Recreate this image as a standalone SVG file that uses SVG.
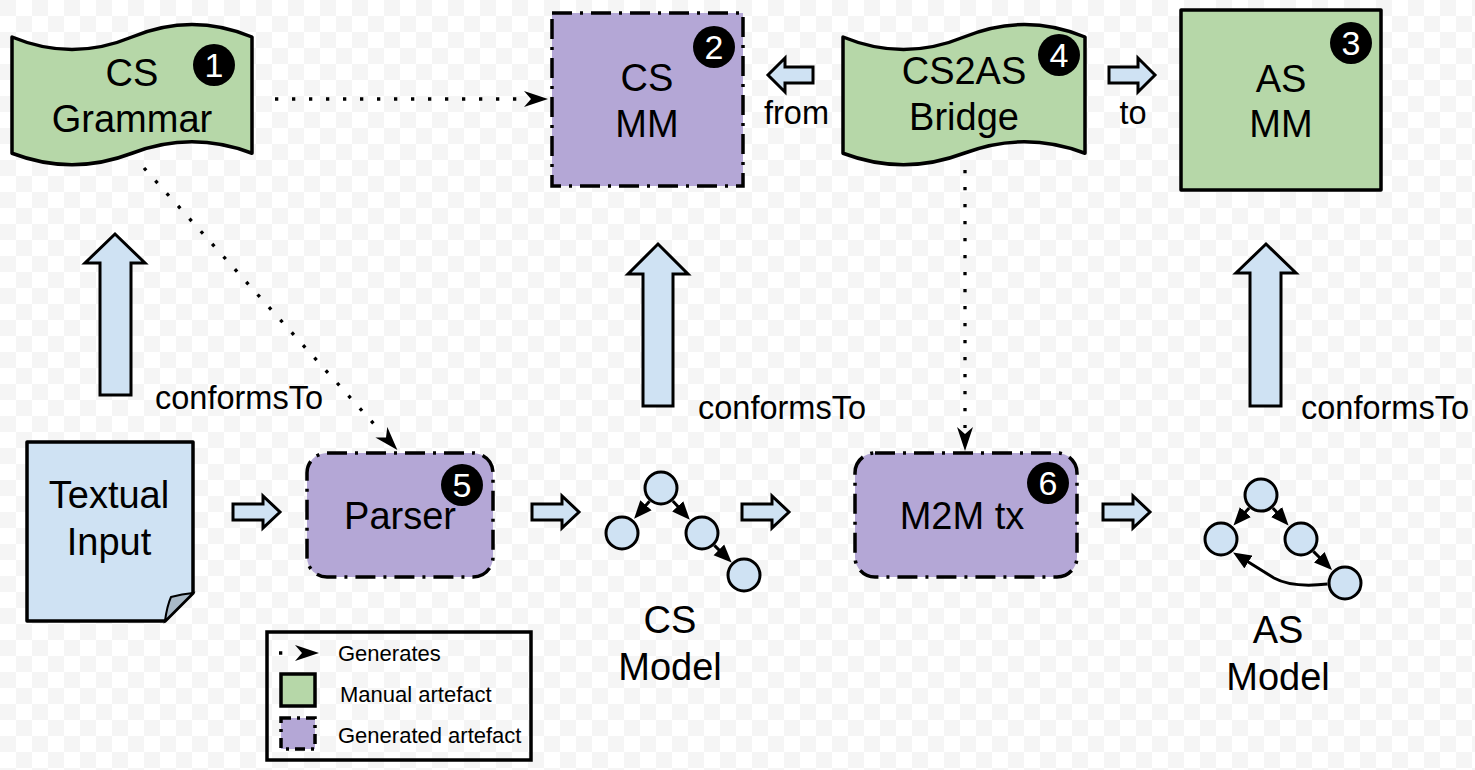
<svg xmlns="http://www.w3.org/2000/svg" width="1475" height="770" viewBox="0 0 1475 770">
<defs>
<pattern id="checker" width="32" height="32" patternUnits="userSpaceOnUse">
<rect width="32" height="32" fill="#ffffff"/>
<rect width="16" height="16" fill="#f5f5f5"/>
<rect x="16" y="16" width="16" height="16" fill="#f5f5f5"/>
</pattern>
<marker id="gen" viewBox="0 -9 26 18" refX="1" refY="0" markerWidth="26" markerHeight="18" markerUnits="userSpaceOnUse" orient="auto">
<path d="M0,-8 L24,0 L0,8 L7,0 Z" fill="#000"/>
</marker>
<marker id="tri" viewBox="0 -8 19 16" refX="1" refY="0" markerWidth="19" markerHeight="16" markerUnits="userSpaceOnUse" orient="auto">
<path d="M0,-7.5 L18,0 L0,7.5 Z" fill="#000"/>
</marker>
<style>
.lbl{font-family:"Liberation Sans",Arial,sans-serif;font-size:38px;fill:#000;text-anchor:middle}
.sm{font-family:"Liberation Sans",Arial,sans-serif;font-size:32.5px;fill:#000}
.lg{font-family:"Liberation Sans",Arial,sans-serif;font-size:22px;fill:#000}
.num{font-family:"Liberation Sans",Arial,sans-serif;font-size:34px;fill:#fff;text-anchor:middle}
.manual{fill:#b6d7a8;stroke:#000;stroke-width:3.5;stroke-linejoin:round}
.generated{fill:#b4a7d6;stroke:#000;stroke-width:3.5;stroke-dasharray:20 8 3 8}
.blk{fill:#cfe2f3;stroke:#000;stroke-width:3;stroke-linejoin:miter}
.dot{fill:none;stroke:#000;stroke-width:3.3;stroke-dasharray:3.3 13.7}
.edge{fill:none;stroke:#000;stroke-width:3}
.node{fill:#cfe2f3;stroke:#000;stroke-width:3}
</style>
</defs>
<rect width="1475" height="770" fill="url(#checker)"/>

<g id="cs-grammar">
<path class="manual" d="M12,37 Q72,62 132,37 Q192,12 252,37 L252,153.25 Q192,130.3 132,153.25 Q72,176.2 12,153.25 Z"/>
<text class="lbl" x="132" y="86">CS</text>
<text class="lbl" x="132" y="132">Grammar</text>
<circle cx="214" cy="65" r="21"/>
<text class="num" x="214" y="77">1</text>
</g>

<g id="cs-mm">
<rect class="generated" x="552" y="13" width="191" height="173"/>
<text class="lbl" x="647" y="91">CS</text>
<text class="lbl" x="647" y="137">MM</text>
<circle cx="714" cy="47" r="21"/>
<text class="num" x="714" y="59">2</text>
</g>

<g id="cs2as-bridge">
<path class="manual" d="M843,37 Q903.5,62 964,37 Q1024.5,12 1085,37 L1085,153.25 Q1024.5,130.3 964,153.25 Q903.5,176.2 843,153.25 Z"/>
<text class="lbl" x="964" y="84">CS2AS</text>
<text class="lbl" x="964" y="130">Bridge</text>
<circle cx="1059" cy="55" r="21"/>
<text class="num" x="1059" y="67">4</text>
</g>

<g id="as-mm">
<rect class="manual" x="1181" y="10" width="200" height="180"/>
<text class="lbl" x="1281" y="92">AS</text>
<text class="lbl" x="1281" y="137">MM</text>
<circle cx="1351" cy="43" r="21"/>
<text class="num" x="1351" y="55">3</text>
</g>

<g id="textual-input">
<path d="M27,442 H193 V593 L165,621 H27 Z" fill="#cfe2f3" stroke="#000" stroke-width="3.5" stroke-linejoin="round"/>
<path d="M165,621 Q167,606 171,597 Q182,594 193,593 Z" fill="#a9b9c7" stroke="#000" stroke-width="2"/>
<text class="lbl" x="109" y="508">Textual</text>
<text class="lbl" x="109" y="555">Input</text>
</g>

<g id="parser">
<rect class="generated" x="307" y="453" width="186" height="124" rx="20"/>
<text class="lbl" x="400" y="529">Parser</text>
<circle cx="462" cy="485" r="21"/>
<text class="num" x="462" y="497">5</text>
</g>

<g id="cs-model">
<circle class="node" cx="661" cy="488" r="16"/>
<circle class="node" cx="622" cy="533" r="16"/>
<circle class="node" cx="702" cy="533" r="16"/>
<circle class="node" cx="744" cy="575" r="16"/>
<path class="edge" d="M649.5,501.2 L645.3,506" marker-end="url(#tri)"/>
<path class="edge" d="M672.8,500.9 L678.4,507.1" marker-end="url(#tri)"/>
<path class="edge" d="M714.4,545.4 L719.6,550.6" marker-end="url(#tri)"/>
<text class="lbl" x="670" y="633">CS</text>
<text class="lbl" x="670" y="680">Model</text>
</g>

<g id="m2m-tx">
<rect class="generated" x="855" y="453" width="222" height="124" rx="20"/>
<text class="lbl" x="962" y="529">M2M tx</text>
<circle cx="1048" cy="483" r="21"/>
<text class="num" x="1048" y="495">6</text>
</g>

<g id="as-model">
<circle class="node" cx="1261" cy="495" r="16"/>
<circle class="node" cx="1221" cy="539" r="16"/>
<circle class="node" cx="1301" cy="539" r="16"/>
<circle class="node" cx="1345" cy="583" r="16"/>
<path class="edge" d="M1249.2,507.9 L1244.8,512.8" marker-end="url(#tri)"/>
<path class="edge" d="M1272.8,507.9 L1277.2,512.8" marker-end="url(#tri)"/>
<path class="edge" d="M1313.4,551.4 L1320,558" marker-end="url(#tri)"/>
<path class="edge" d="M1327.5,584 Q1292,588 1274,578 L1247.5,561.5" marker-end="url(#tri)"/>
<text class="lbl" x="1278" y="643">AS</text>
<text class="lbl" x="1278" y="690">Model</text>
</g>

<g id="connectors">
<path class="dot" d="M275,99 H525" marker-end="url(#gen)"/>
<path class="dot" d="M144,168 L382,433" marker-end="url(#gen)"/>
<path class="dot" d="M965,170 V428" marker-end="url(#gen)"/>
<path class="blk" d="M813,67 H785 V58 L768,75 L785,92 V83 H813 Z"/>
<path class="blk" d="M1109,67 H1138 V58 L1155,75 L1138,92 V83 H1109 Z"/>
<path class="blk" d="M233,504 H263 V496 L280,512 L263,528 V520 H233 Z"/>
<path class="blk" d="M532,504 H562 V496 L579,512 L562,528 V520 H532 Z"/>
<path class="blk" d="M742,504 H772 V496 L789,512 L772,528 V520 H742 Z"/>
<path class="blk" d="M1103,504 H1133 V496 L1150,512 L1133,528 V520 H1103 Z"/>
<path class="blk" d="M100,395 V263 H85 L115,234 L145,263 H131 V395 Z"/>
<path class="blk" d="M643,406 V274 H628 L658,244 L688,274 H673 V406 Z"/>
<path class="blk" d="M1250,406 V273 H1236 L1266,244 L1296,273 H1281 V406 Z"/>
<text class="sm" x="764" y="124">from</text>
<text class="sm" x="1133" y="124" text-anchor="middle">to</text>
<text class="sm" x="155" y="409">conformsTo</text>
<text class="sm" x="698" y="419">conformsTo</text>
<text class="sm" x="1301" y="419">conformsTo</text>
</g>

<g id="legend">
<rect x="267" y="632" width="264" height="128" fill="none" stroke="#000" stroke-width="3.5"/>
<path class="dot" d="M279,653 H296" marker-end="url(#gen)"/>
<text class="lg" x="338" y="661">Generates</text>
<rect x="281" y="674" width="34" height="32" fill="#b6d7a8" stroke="#000" stroke-width="3.5"/>
<text class="lg" x="340" y="702">Manual artefact</text>
<rect x="281" y="718" width="34" height="31" fill="#b4a7d6" stroke="#000" stroke-width="3.5" stroke-dasharray="10 6 3 6"/>
<text class="lg" x="338" y="743">Generated artefact</text>
</g>
</svg>
